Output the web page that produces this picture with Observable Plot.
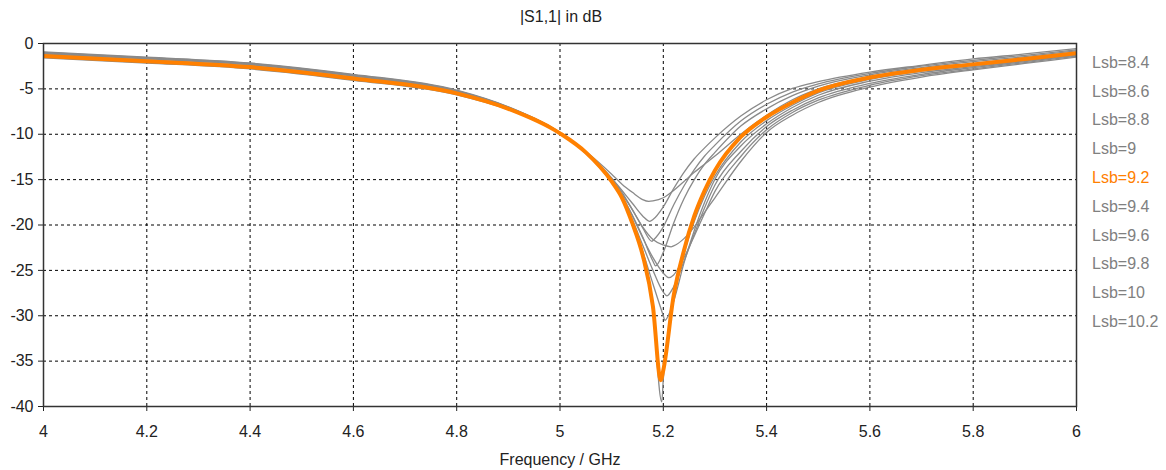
<!DOCTYPE html>
<html>
<head>
<meta charset="utf-8">
<script src="https://cdn.jsdelivr.net/npm/d3@7"></script>
<script src="https://cdn.jsdelivr.net/npm/@observablehq/plot@0.6"></script>
<style>
  body { margin: 0; background: #fff; }
  #wrap { position: relative; width: 1166px; height: 470px; font-family: "Liberation Sans", Arial, sans-serif; overflow: hidden; }
  #title { position: absolute; left: 0; width: 1122px; top: 8px; text-align: center; font-size: 16px; color: #222; }
  #legend { position: absolute; left: 1092px; top: 48.8px; font-size: 16px; line-height: 28.8px; }
  #chart { position: absolute; left: 0; top: 0; }
</style>
</head>
<body>
<div id="wrap">
  <div id="chart"></div>
  <div id="title">|S1,1| in dB</div>
  <div id="legend"></div>
</div>
<script>
// Frequency grid (GHz)
const freq = [4.0,4.2,4.4,4.6,4.8,4.9,5.0,5.05,5.1,5.12,5.14,5.16,5.18,5.2,5.22,5.24,5.26,5.28,5.3,5.35,5.4,5.45,5.5,5.6,5.7,5.8,5.9,6.0];

// Series labels (Lsb sweep)
const lsbLabels = ["8.4","8.6","8.8","9","9.2","9.4","9.6","9.8","10","10.2"];
const highlighted = "9.2";

// |S1,1| in dB for each Lsb, on the freq grid
const s84  = [-1.03,-1.6,-2.25,-3.5,-5.22,-7.03,-9.83,-11.9,-14.4,-15.5,-16.4,-17.2,-17.35,-17.0,-16.2,-15.2,-14.2,-13.3,-12.4,-10.0,-7.9,-6.2,-5.0,-3.65,-2.8,-2.2,-1.6,-0.95];
const s86  = [-0.93,-1.5,-2.15,-3.4,-5.14,-6.98,-9.81,-12.0,-14.8,-16.2,-17.6,-19.0,-19.4,-18.0,-16.0,-14.2,-12.7,-11.5,-10.4,-8.0,-6.2,-4.95,-4.2,-3.15,-2.4,-1.7,-1.15,-0.55];
const s88  = [-0.98,-1.55,-2.2,-3.45,-5.18,-7.0,-9.82,-12.0,-15.0,-16.6,-18.3,-20.3,-21.7,-20.2,-17.8,-15.7,-13.9,-12.4,-11.2,-8.55,-6.7,-5.35,-4.45,-3.3,-2.5,-1.85,-1.3,-0.7];
const s90  = [-1.13,-1.7,-2.35,-3.6,-5.3,-7.08,-9.85,-12.0,-15.1,-16.8,-18.9,-21.3,-24.0,-23.0,-19.8,-17.1,-15.0,-13.3,-12.0,-9.1,-7.2,-5.75,-4.7,-3.45,-2.65,-2.0,-1.45,-0.8];
const s92  = [-1.38,-1.95,-2.6,-3.85,-5.5,-7.2,-9.9,-12.0,-15.2,-17.0,-19.8,-23.3,-29.0,-36.0,-27.8,-22.8,-19.0,-16.2,-14.0,-10.3,-8.1,-6.5,-5.2,-3.75,-2.9,-2.3,-1.7,-1.07];
const s94  = [-1.58,-2.15,-2.8,-4.05,-5.66,-7.3,-9.94,-12.1,-15.3,-17.1,-19.9,-23.5,-29.5,-37.0,-28.3,-23.2,-19.6,-16.8,-14.6,-10.85,-8.5,-6.8,-5.45,-3.95,-3.05,-2.4,-1.8,-1.15];
const s96  = [-1.48,-2.05,-2.7,-3.95,-5.58,-7.25,-9.92,-12.1,-15.3,-17.1,-19.8,-22.9,-26.5,-30.0,-28.4,-24.2,-20.6,-17.5,-14.95,-11.3,-8.85,-7.05,-5.7,-4.15,-3.2,-2.55,-1.9,-1.25];
const s98  = [-1.33,-1.9,-2.55,-3.8,-5.46,-7.18,-9.89,-12.1,-15.2,-17.0,-19.4,-22.2,-25.0,-27.4,-26.8,-24.0,-21.0,-18.1,-15.6,-11.9,-9.15,-7.35,-6.0,-4.4,-3.4,-2.65,-2.0,-1.3];
const s100 = [-1.23,-1.8,-2.45,-3.7,-5.38,-7.13,-9.87,-12.1,-15.1,-16.8,-19.0,-21.4,-23.6,-25.3,-25.5,-23.6,-21.2,-18.7,-16.3,-12.45,-9.5,-7.6,-6.25,-4.6,-3.55,-2.8,-2.1,-1.4];
const s102 = [-1.08,-1.65,-2.3,-3.55,-5.26,-7.05,-9.84,-12.0,-14.9,-16.4,-18.3,-20.2,-21.6,-22.2,-22.3,-21.5,-20.2,-18.6,-17.0,-13.0,-9.8,-7.9,-6.5,-4.8,-3.7,-2.9,-2.2,-1.5];

// Resonance minimum of each curve
const dipFreq = [5.172,5.174,5.178,5.185,5.195,5.197,5.203,5.207,5.211,5.215];
const dipDb   = [-17.4,-19.6,-21.8,-24.5,-37.1,-39.5,-30.5,-27.8,-25.8,-22.4];

// Axis ticks
const xTicks = [4,4.2,4.4,4.6,4.8,5,5.2,5.4,5.6,5.8,6];
const yTicks = [0,-5,-10,-15,-20,-25,-30,-35,-40];
const xLabel = "Frequency / GHz";

const series = [s84,s86,s88,s90,s92,s94,s96,s98,s100,s102];
const rows = [];
series.forEach((vals, i) => {
  const pts = freq.map((f, j) => ({f, db: vals[j]}));
  pts.push({f: dipFreq[i], db: dipDb[i]});
  pts.sort((a, b) => a.f - b.f);
  pts.forEach(p => rows.push({lsb: lsbLabels[i], f: p.f, db: p.db}));
});
const grayRows = rows.filter(r => r.lsb !== highlighted);
const orangeRows = rows.filter(r => r.lsb === highlighted);

const gridStyle = {stroke: "#000", strokeOpacity: 1, strokeWidth: 1, strokeDasharray: "3,3"};

const chart = Plot.plot({
  width: 1166,
  height: 470,
  marginTop: 43,
  marginLeft: 43,
  marginRight: 90,
  marginBottom: 64,
  style: {fontFamily: "'Liberation Sans', Arial, sans-serif", fontSize: "16px", color: "#222", background: "#fff"},
  x: {domain: [4, 6], ticks: xTicks, tickFormat: d => String(d), tickSize: 5, tickPadding: 14, label: null},
  y: {domain: [-40, 0], ticks: yTicks, tickFormat: d => String(d), tickSize: 5, tickPadding: 5, label: null},
  marks: [
    Plot.gridX(xTicks.slice(1, -1), gridStyle),
    Plot.gridY(yTicks.slice(1, -1), gridStyle),
    Plot.line(grayRows, {x: "f", y: "db", z: "lsb", stroke: "#8a8a8a", strokeWidth: 1.3, curve: "monotone-x", clip: true}),
    Plot.line(orangeRows, {x: "f", y: "db", stroke: "#ff8000", strokeWidth: 4, curve: "monotone-x", clip: true}),
    Plot.frame({stroke: "#333", strokeWidth: 1.5}),
    Plot.text([xLabel], {frameAnchor: "bottom", dy: 47, lineAnchor: "top", fontSize: 16, fill: "#222"})
  ]
});
document.getElementById("chart").appendChild(chart);

const legend = document.getElementById("legend");
lsbLabels.forEach(l => {
  const d = document.createElement("div");
  d.textContent = "Lsb=" + l;
  d.style.color = l === highlighted ? "#ff8000" : "#808080";
  legend.appendChild(d);
});
</script>
</body>
</html>
